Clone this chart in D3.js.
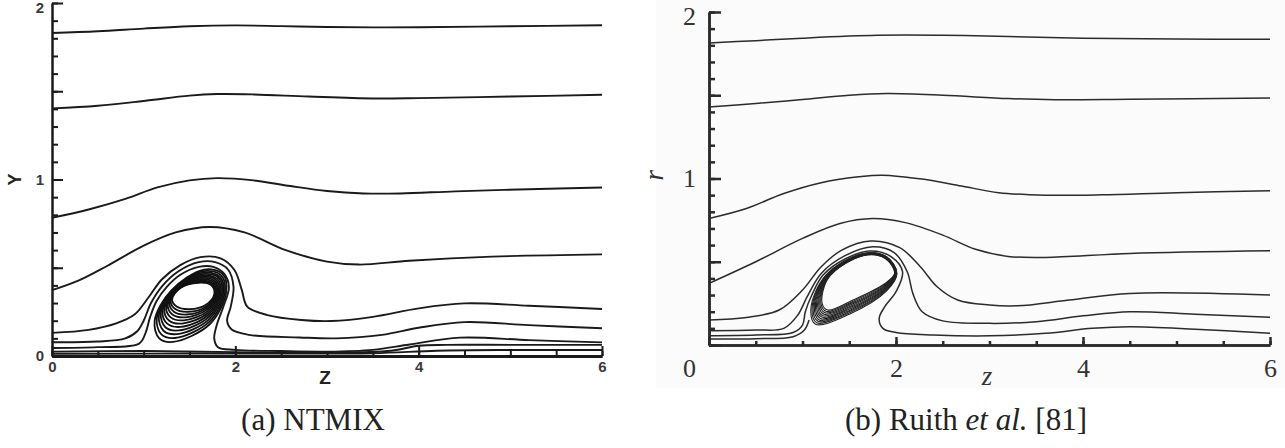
<!DOCTYPE html>
<html>
<head>
<meta charset="utf-8">
<script src="https://cdn.jsdelivr.net/npm/d3@7"></script>
<style>
body { margin: 0; background: #fff; }
svg { display: block; }
</style>
</head>
<body>
<script>
// streamlines of panel (a), [z, y] pairs
var ntmixLines = [
  [[0,1.83],[0.5,1.84],[1,1.855],[1.5,1.868],[2,1.873],[2.5,1.869],[3,1.864],[3.5,1.862],[4,1.863],[5,1.868],[6,1.874]],
  [[0,1.403],[0.5,1.418],[1,1.445],[1.5,1.475],[1.8,1.484],[2.2,1.482],[2.8,1.47],[3.5,1.459],[4,1.461],[5,1.47],[6,1.48]],
  [[0,0.783],[0.4,0.83],[0.8,0.89],[1.15,0.955],[1.5,0.995],[1.8,1.008],[2.2,0.995],[2.6,0.963],[3.0,0.935],[3.4,0.921],[3.8,0.921],[4.4,0.933],[5.2,0.945],[6,0.955]],
  [[0,0.373],[0.3,0.43],[0.6,0.51],[1.0,0.625],[1.35,0.7],[1.72,0.731],[2.1,0.7],[2.55,0.6],[3.0,0.535],[3.35,0.518],[3.9,0.54],[4.8,0.563],[6,0.576]],
  [[0,0.131],[0.4,0.148],[0.7,0.185],[0.9,0.235],[1.05,0.33],[1.2,0.435],[1.4,0.515],[1.62,0.56],[1.84,0.553],[1.99,0.487],[2.07,0.375],[2.13,0.28],[2.35,0.232],[2.72,0.204],[3.05,0.198],[3.5,0.222],[4.0,0.27],[4.5,0.298],[5.2,0.285],[6,0.266]],
  [[0,0.078],[0.5,0.082],[0.8,0.1],[0.93,0.14],[1.0,0.2],[1.08,0.3],[1.2,0.395],[1.38,0.48],[1.6,0.532],[1.78,0.532],[1.92,0.49],[1.98,0.393],[1.95,0.28],[1.91,0.2],[1.96,0.15],[2.15,0.12],[2.7,0.105],[3.1,0.1],[3.6,0.12],[4.0,0.16],[4.5,0.192],[5.2,0.175],[6,0.157]],
  [[0,0.045],[0.5,0.05],[0.95,0.07],[1.02,0.13],[1.07,0.22],[1.14,0.31],[1.25,0.39],[1.4,0.46],[1.6,0.505],[1.76,0.505],[1.88,0.465],[1.93,0.39],[1.87,0.28],[1.8,0.18],[1.77,0.1],[1.81,0.05],[2.0,0.035],[2.5,0.028],[3.0,0.025],[3.5,0.035],[3.9,0.065],[4.45,0.104],[5.2,0.09],[6,0.077]],
  [[0,0.025],[1,0.028],[2,0.022],[3,0.018],[3.7,0.03],[4.0,0.058],[4.3,0.063],[5,0.063],[6,0.063]],
  [[0,0.013],[2,0.014],[3.5,0.016],[4.2,0.03],[5,0.034],[6,0.034]]
];

// closed loops of the recirculation bubble in (a), inner to outer
var ntmixRings = [
  [[1.31,.32],[1.36,.28],[1.50,.265],[1.68,.29],[1.77,.35],[1.74,.40],[1.60,.415],[1.40,.385]],
  [[1.295,.31],[1.345,.266],[1.486,.25],[1.683,.281],[1.78,.351],[1.75,.405],[1.605,.421],[1.392,.384]],
  [[1.28,.301],[1.33,.251],[1.471,.235],[1.686,.272],[1.791,.352],[1.759,.41],[1.61,.427],[1.384,.383]],
  [[1.263,.29],[1.313,.235],[1.455,.219],[1.69,.263],[1.803,.353],[1.77,.416],[1.615,.434],[1.375,.381]],
  [[1.245,.279],[1.295,.219],[1.439,.202],[1.694,.253],[1.814,.353],[1.781,.422],[1.62,.441],[1.366,.38]],
  [[1.226,.267],[1.276,.201],[1.421,.184],[1.698,.242],[1.827,.354],[1.793,.429],[1.626,.448],[1.356,.378]],
  [[1.207,.255],[1.257,.183],[1.403,.165],[1.702,.231],[1.84,.355],[1.805,.435],[1.632,.456],[1.346,.377]],
  [[1.187,.242],[1.237,.163],[1.383,.145],[1.706,.219],[1.855,.357],[1.818,.442],[1.639,.464],[1.335,.375]],
  [[1.166,.229],[1.216,.143],[1.363,.124],[1.71,.206],[1.869,.358],[1.831,.449],[1.646,.472],[1.324,.374]],
  [[1.143,.214],[1.193,.122],[1.342,.102],[1.715,.193],[1.884,.359],[1.846,.457],[1.653,.481],[1.312,.372]],
  [[1.12,.20],[1.17,.10],[1.32,.08],[1.72,.18],[1.90,.36],[1.86,.465],[1.66,.49],[1.30,.37]]
];

// streamlines of panel (b)
var ruithLines = [
  [[0,1.814],[0.5,1.828],[1,1.843],[1.8,1.86],[2.5,1.86],[3.2,1.853],[4,1.843],[5,1.838],[6,1.836]],
  [[0,1.43],[0.5,1.45],[1,1.475],[1.5,1.5],[1.9,1.51],[2.5,1.5],[3.2,1.48],[3.7,1.473],[4.5,1.476],[6,1.484]],
  [[0,0.76],[0.4,0.82],[0.8,0.91],[1.2,0.975],[1.6,1.01],[1.85,1.02],[2.3,0.995],[2.7,0.955],[3.1,0.915],[3.6,0.9],[4.2,0.902],[5,0.915],[6,0.926]],
  [[0,0.37],[0.5,0.5],[1.0,0.64],[1.4,0.73],[1.75,0.76],[2.1,0.735],[2.5,0.66],[2.85,0.575],[3.2,0.532],[3.6,0.526],[4.5,0.55],[6,0.566]],
  [[0,0.15],[0.4,0.165],[0.75,0.21],[1.0,0.33],[1.2,0.47],[1.42,0.57],[1.73,0.625],[2.04,0.585],[2.26,0.47],[2.44,0.35],[2.66,0.27],[3.0,0.24],[3.3,0.235],[3.85,0.27],[4.5,0.31],[6,0.30]],
  [[0,0.086],[0.5,0.09],[0.8,0.1],[0.95,0.18],[1.05,0.29],[1.2,0.43],[1.45,0.535],[1.75,0.59],[1.98,0.555],[2.12,0.44],[2.18,0.31],[2.28,0.2],[2.5,0.145],[3.0,0.13],[3.5,0.14],[4.0,0.175],[4.5,0.2],[5.2,0.185],[6,0.166]],
  [[0,0.056],[0.5,0.06],[0.9,0.075],[1.0,0.12],[1.03,0.2],[1.1,0.3],[1.22,0.42],[1.45,0.515],[1.72,0.565],[1.95,0.53],[2.07,0.44],[2.0,0.32],[1.88,0.23],[1.82,0.16],[1.86,0.1],[2.0,0.075],[2.4,0.06],[3.0,0.055],[3.6,0.07],[4.1,0.1],[4.5,0.11],[5.2,0.095],[6,0.07]],
  [[0,0.036],[0.5,0.038],[0.9,0.05],[1.02,0.09],[1.07,0.15]]
];

// the crescent shaped bubble in (b), inner to outer; the loops crowd at the top
var ruithRings = [
  [[1.21,.25],[1.27,.21],[1.54,.27],[1.87,.365],[1.985,.43],[1.885,.52],[1.65,.537],[1.28,.404]],
  [[1.198,.247],[1.257,.2015],[1.536,.2615],[1.873,.361],[1.9875,.43],[1.8865,.521],[1.65,.538],[1.277,.406]],
  [[1.186,.244],[1.244,.193],[1.532,.253],[1.876,.357],[1.99,.43],[1.888,.522],[1.65,.54],[1.274,.407]],
  [[1.174,.241],[1.231,.1845],[1.528,.2445],[1.879,.353],[1.9925,.43],[1.8895,.523],[1.65,.541],[1.271,.409]],
  [[1.162,.238],[1.218,.176],[1.524,.236],[1.882,.349],[1.995,.43],[1.891,.524],[1.65,.542],[1.268,.41]],
  [[1.15,.235],[1.205,.1675],[1.52,.2275],[1.885,.345],[1.9975,.43],[1.8925,.525],[1.65,.5435],[1.265,.412]],
  [[1.138,.232],[1.192,.159],[1.516,.219],[1.888,.341],[2.0,.43],[1.894,.526],[1.65,.545],[1.262,.414]],
  [[1.126,.229],[1.179,.1505],[1.512,.2105],[1.891,.337],[2.0025,.43],[1.8955,.527],[1.65,.546],[1.259,.415]],
  [[1.114,.226],[1.166,.142],[1.508,.202],[1.894,.333],[2.005,.43],[1.897,.528],[1.65,.547],[1.256,.417]],
  [[1.102,.223],[1.153,.1335],[1.504,.1935],[1.897,.329],[2.0075,.43],[1.8985,.529],[1.65,.549],[1.253,.418]],
  [[1.09,.22],[1.14,.125],[1.50,.185],[1.90,.325],[2.01,.43],[1.90,.53],[1.65,.55],[1.25,.42]]
];

var zLabels = [0, 2, 4, 6];
var zMinor = [0, 0.5, 1, 1.5, 2, 2.5, 3, 3.5, 4, 4.5, 5, 5.5, 6];
var yLabels = [0, 1, 2];
var yMajor = [0, 0.5, 1, 1.5, 2];
var yMinor = d3.range(0, 21).map(function(i) { return i / 10; });

var width = 1285,
    height = 448;

var svg = d3.select("body").append("svg")
    .attr("width", width)
    .attr("height", height);

// faint grey of the scanned figure on the right
svg.append("rect")
    .attr("x", 656).attr("y", 0)
    .attr("width", 629).attr("height", 388)
    .attr("fill", "#fbfbfb");

// ---------- panel (a) NTMIX ----------
var xa = d3.scaleLinear().domain([0, 6]).range([52, 602]);
var ya = d3.scaleLinear().domain([0, 2]).range([356, 3]);

var lineA = d3.line()
    .x(function(d) { return xa(d[0]); })
    .y(function(d) { return ya(d[1]); })
    .curve(d3.curveCatmullRom);

var ringA = d3.line()
    .x(function(d) { return xa(d[0]); })
    .y(function(d) { return ya(d[1]); })
    .curve(d3.curveCatmullRomClosed);

var gA = svg.append("g");

gA.selectAll("path.ring")
    .data(ntmixRings)
    .enter().append("path")
    .attr("class", "ring")
    .attr("d", ringA)
    .attr("fill", "none")
    .attr("stroke", "#111")
    .attr("stroke-width", 1.8);

gA.selectAll("path.stream")
    .data(ntmixLines)
    .enter().append("path")
    .attr("class", "stream")
    .attr("d", lineA)
    .attr("fill", "none")
    .attr("stroke", "#1a1a1a")
    .attr("stroke-width", 1.9);

// axes: minor ticks first, then the long ones with labels
gA.append("g")
    .attr("class", "zaxis")
    .attr("transform", "translate(0," + ya(0) + ")")
    .call(d3.axisBottom(xa).tickValues(zMinor).tickSize(-5).tickSizeOuter(0).tickFormat(""));
gA.append("g")
    .attr("class", "labA")
    .attr("transform", "translate(0," + ya(0) + ")")
    .call(d3.axisBottom(xa).tickValues(zLabels).tickSize(-10).tickSizeOuter(0).tickPadding(5).tickFormat(d3.format("d")));
gA.append("g")
    .attr("transform", "translate(" + xa(0) + ",0)")
    .call(d3.axisLeft(ya).tickValues(yMinor).tickSize(-6).tickSizeOuter(0).tickFormat(""));
gA.append("g")
    .attr("class", "labA ylab")
    .attr("transform", "translate(" + xa(0) + ",0)")
    .call(d3.axisLeft(ya).tickValues(yMajor).tickSize(-11).tickSizeOuter(0).tickPadding(8)
        .tickFormat(function(d) { return yLabels.indexOf(d) >= 0 ? d : ""; }));

gA.selectAll(".domain, .tick line").attr("stroke", "#1a1a1a").attr("stroke-width", 2);
gA.selectAll(".labA text")
    .attr("font-family", "Liberation Sans, Arial, sans-serif")
    .attr("font-size", 15)
    .attr("font-weight", "bold")
    .attr("fill", "#3a3a3a");
// keep the top label inside the page
gA.selectAll(".ylab .tick text")
    .filter(function(d) { return d == 2; })
    .attr("y", 5);
// the z axis line is drawn heavier
gA.select(".zaxis .domain").attr("stroke-width", 3);

gA.append("text")
    .attr("x", 325).attr("y", 384)
    .attr("text-anchor", "middle")
    .attr("font-family", "Liberation Sans, Arial, sans-serif")
    .attr("font-size", 19)
    .attr("font-weight", "bold")
    .attr("fill", "#222")
    .text("Z");

gA.append("text")
    .attr("transform", "translate(21," + ya(1) + ") rotate(-90)")
    .attr("text-anchor", "middle")
    .attr("font-family", "Liberation Sans, Arial, sans-serif")
    .attr("font-size", 18)
    .attr("font-weight", "bold")
    .attr("fill", "#222")
    .text("Y");

// ---------- panel (b) Ruith et al. ----------
var xb = d3.scaleLinear().domain([0, 6]).range([709, 1270]);
var yb = d3.scaleLinear().domain([0, 2]).range([345, 12]);

var lineB = d3.line()
    .x(function(d) { return xb(d[0]); })
    .y(function(d) { return yb(d[1]); })
    .curve(d3.curveCatmullRom);

var ringB = d3.line()
    .x(function(d) { return xb(d[0]); })
    .y(function(d) { return yb(d[1]); })
    .curve(d3.curveCatmullRomClosed);

var gB = svg.append("g");

gB.selectAll("path.ring")
    .data(ruithRings)
    .enter().append("path")
    .attr("class", "ring")
    .attr("d", ringB)
    .attr("fill", "none")
    .attr("stroke", "#222")
    .attr("stroke-width", 1.1);

gB.selectAll("path.stream")
    .data(ruithLines)
    .enter().append("path")
    .attr("class", "stream")
    .attr("d", lineB)
    .attr("fill", "none")
    .attr("stroke", "#2b2b2b")
    .attr("stroke-width", 1.5);

gB.append("g")
    .attr("transform", "translate(0," + yb(0) + ")")
    .call(d3.axisBottom(xb).tickValues(zMinor).tickSize(-4).tickSizeOuter(0).tickFormat(""));
gB.append("g")
    .attr("class", "labB xlab")
    .attr("transform", "translate(0," + yb(0) + ")")
    .call(d3.axisBottom(xb).tickValues(zLabels).tickSize(-8).tickSizeOuter(0).tickPadding(14).tickFormat(d3.format("d")));
gB.append("g")
    .attr("transform", "translate(" + xb(0) + ",0)")
    .call(d3.axisLeft(yb).tickValues(yMinor).tickSize(-6).tickSizeOuter(0).tickFormat(""));
gB.append("g")
    .attr("class", "labB ylab")
    .attr("transform", "translate(" + xb(0) + ",0)")
    .call(d3.axisLeft(yb).tickValues(yMajor).tickSize(-12).tickSizeOuter(0).tickPadding(13)
        .tickFormat(function(d) { return (d == 1 || d == 2) ? d : ""; }));

gB.selectAll(".domain, .tick line").attr("stroke", "#2b2b2b").attr("stroke-width", 2.5);
gB.selectAll(".labB text")
    .attr("font-family", "Liberation Serif, Times New Roman, serif")
    .attr("font-size", 26)
    .attr("fill", "#333");
// the shared 0 sits under the r labels
gB.selectAll(".xlab .tick text")
    .filter(function(d) { return d == 0; })
    .attr("x", -20);
gB.selectAll(".ylab .tick text")
    .filter(function(d) { return d == 2; })
    .attr("y", 4);

gB.append("text")
    .attr("x", 987).attr("y", 385)
    .attr("text-anchor", "middle")
    .attr("font-family", "Liberation Serif, Times New Roman, serif")
    .attr("font-style", "italic")
    .attr("font-size", 27)
    .attr("fill", "#333")
    .text("z");

gB.append("text")
    .attr("transform", "translate(663," + yb(1.02) + ") rotate(-90)")
    .attr("text-anchor", "middle")
    .attr("font-family", "Liberation Serif, Times New Roman, serif")
    .attr("font-style", "italic")
    .attr("font-size", 27)
    .attr("fill", "#333")
    .text("r");

// ---------- captions ----------
svg.append("text")
    .attr("x", 313).attr("y", 430)
    .attr("text-anchor", "middle")
    .attr("font-family", "Liberation Serif, Times New Roman, serif")
    .attr("font-size", 31)
    .attr("fill", "#222")
    .text("(a) NTMIX");

var capB = svg.append("text")
    .attr("x", 966).attr("y", 430)
    .attr("text-anchor", "middle")
    .attr("font-family", "Liberation Serif, Times New Roman, serif")
    .attr("font-size", 31)
    .attr("fill", "#222");
capB.append("tspan").text("(b) Ruith ");
capB.append("tspan").attr("font-style", "italic").text("et al.");
capB.append("tspan").text(" [81]");
</script>
</body>
</html>
